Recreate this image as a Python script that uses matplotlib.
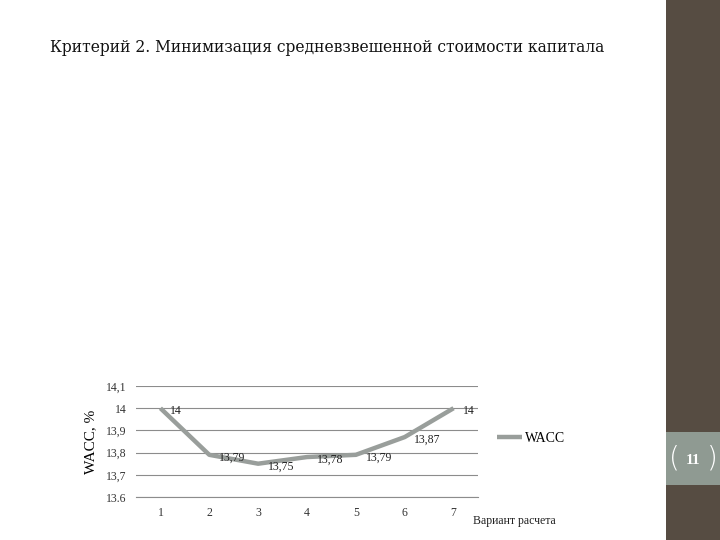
import matplotlib.pyplot as plt
from matplotlib.patches import Rectangle

variants = [1, 2, 3, 4, 5, 6, 7]
wacc = [14.0, 13.79, 13.75, 13.78, 13.79, 13.87, 14.0]
y_ticks = [13.6, 13.7, 13.8, 13.9, 14.0, 14.1]
y_tick_labels = ["13.6", "13,7", "13,8", "13,9", "14", "14,1"]

title = "Критерий 2. Минимизация средневзвешенной стоимости капитала"
line_color = "#999e9b"
grid_color = "#8c8c8c"

fig = plt.figure(figsize=(7.2, 5.4), dpi=100)
fig.patch.set_facecolor("white")

# right-hand band of the slide and page number box
fig.add_artist(Rectangle((666 / 720, 0), 54 / 720, 1, transform=fig.transFigure,
                         facecolor="#564c42", edgecolor="none"))
fig.add_artist(Rectangle((666 / 720, 1 - 485 / 540), 54 / 720, 53 / 540,
                         transform=fig.transFigure, facecolor="#8f9a92", edgecolor="none"))
fig.text(693 / 720, 1 - 460 / 540, "11", color="white", fontsize=11,
         family="Liberation Serif", ha="center", va="center", fontweight="bold")
fig.text(674 / 720, 1 - 459 / 540, "(", color="white", fontsize=20, ha="center",
         va="center", family="DejaVu Sans", fontweight="light")
fig.text(712 / 720, 1 - 459 / 540, ")", color="white", fontsize=20, ha="center",
         va="center", family="DejaVu Sans", fontweight="light")

fig.text(50 / 720, 1 - 47 / 540, title, fontsize=12.4, family="DejaVu Serif",
         fontstretch="condensed", ha="left", va="center", color="#111111")

ax = fig.add_axes([136 / 720, 1 - 497 / 540, 342 / 720, 111 / 540])
ax.plot(variants, wacc, color=line_color, linewidth=3.2, label="WACC",
        solid_capstyle="butt", zorder=3)

for x, v in zip(variants, wacc):
    txt = ("%g" % v).replace(".", ",")
    ax.annotate(txt, (x, v), xytext=(7, -2), textcoords="offset points",
                fontsize=8.5, family="Liberation Serif", va="center", ha="left",
                color="#222222", zorder=4)

ax.set_xlim(0.5, 7.5)
ax.set_ylim(13.6, 14.1)
ax.set_yticks(y_ticks)
ax.set_yticklabels(y_tick_labels, fontsize=8.5, family="Liberation Serif")
ax.set_xticks(variants)
ax.set_xticklabels([str(v) for v in variants], fontsize=8.5, family="Liberation Serif")
ax.tick_params(length=0, pad=7, colors="#333333")
ax.yaxis.grid(True, color=grid_color, linewidth=0.8)
ax.set_axisbelow(True)
for side in ["top", "right", "left"]:
    ax.spines[side].set_visible(False)
ax.spines["bottom"].set_color(grid_color)
ax.spines["bottom"].set_linewidth(0.8)

ax.set_ylabel("WACC, %", fontsize=11, family="Liberation Serif", labelpad=6)
fig.text(473 / 720, 1 - 521 / 540, "Вариант расчета", fontsize=8.5,
         family="Liberation Serif", ha="left", va="center", color="#222222")

leg = ax.legend(loc="center left", bbox_to_anchor=(1.02, 0.53), frameon=False,
                prop={"family": "Liberation Serif", "size": 10},
                handlelength=1.8, handletextpad=0.2)

fig.savefig("out.png", dpi=100)
